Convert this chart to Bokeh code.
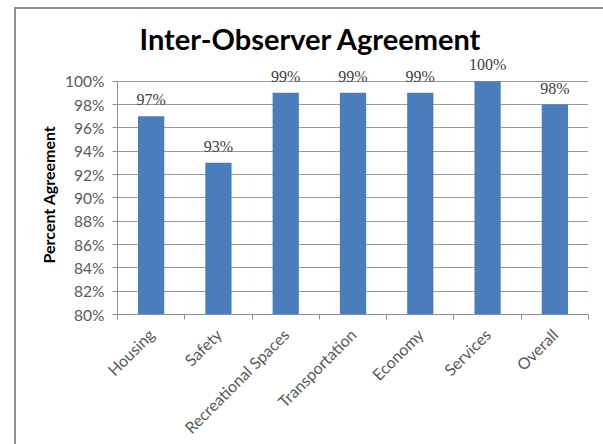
from bokeh.plotting import figure
from bokeh.models import (ColumnDataSource, FixedTicker, PrintfTickFormatter,
                          CustomJSTickFormatter, LabelSet, Range1d, Title)
from bokeh.embed import file_html
from bokeh.resources import INLINE

categories = ["Housing", "Safety", "Recreational Spaces", "Transportation",
              "Economy", "Services", "Overall"]
values = [97, 93, 99, 99, 99, 100, 98]
value_labels = ["97%", "93%", "99%", "99%", "99%", "100%", "98%"]
y_ticks = [80, 82, 84, 86, 88, 90, 92, 94, 96, 98, 100]

n = len(categories)
xs = [i + 0.5 for i in range(n)]
src = ColumnDataSource(dict(x=xs, top=values, lab=value_labels))

FONT = "Lato"

p = figure(width=589, height=437, output_backend="svg", toolbar_location=None,
           x_range=Range1d(0, n), y_range=Range1d(80, 102.2),
           min_border_left=101, min_border_right=17, min_border_top=46,
           min_border_bottom=132)
p.margin = (7, 0, 0, 14)
p.styles = {"border-left": "2px solid #8f8f8f", "border-top": "2px solid #8f8f8f",
            "box-sizing": "border-box"}
p.outline_line_color = None
p.background_fill_color = "white"
p.border_fill_color = "white"

title = Title(text="Inter-Observer Agreement", align="left", offset=22,
              text_font=FONT, text_font_size="29px", text_font_style="bold",
              text_color="black", standoff=0)
p.add_layout(title, "above")

p.vbar(x="x", top="top", bottom=80, width=0.39, source=src,
       fill_color="#4a7ebb", line_color=None)

labels = LabelSet(x="x", y="top", text="lab", source=src, text_align="center",
                  text_baseline="alphabetic", y_offset=11, text_font=FONT,
                  text_font_size="16px", text_color="#404040", level="overlay")
p.add_layout(labels)

# y axis
p.yaxis.ticker = FixedTicker(ticks=y_ticks)
p.yaxis.bounds = (80, 100)
p.yaxis.formatter = PrintfTickFormatter(format="%d%%")
p.yaxis.major_label_text_font = FONT
p.yaxis.major_label_text_font_size = "15.5px"
p.yaxis.major_label_text_color = "#595959"
p.yaxis.major_label_standoff = 8
p.yaxis.major_tick_in = 0
p.yaxis.major_tick_out = 5
p.yaxis.minor_tick_line_color = None
p.yaxis.axis_line_color = "#8c8c8c"
p.yaxis.major_tick_line_color = "#8c8c8c"

ylabel = Title(text="Percent Agreement", align="left", offset=51,
               text_font=FONT, text_font_size="16px", text_font_style="bold",
               text_color="black", standoff=10)
p.add_layout(ylabel, "left")

# x axis: labels at centres, ticks at category boundaries
p.xaxis.ticker = FixedTicker(ticks=xs, minor_ticks=list(range(n + 1)))
p.xaxis.formatter = CustomJSTickFormatter(args=dict(names=categories),
                                          code="return names[Math.floor(tick)]")
p.xaxis.major_label_orientation = 0.785398
p.xaxis.major_label_text_font = FONT
p.xaxis.major_label_text_font_size = "16px"
p.xaxis.major_label_text_color = "#595959"
p.xaxis.major_label_standoff = 11
p.xaxis.major_tick_line_color = None
p.xaxis.minor_tick_in = 0
p.xaxis.minor_tick_out = 5
p.xaxis.minor_tick_line_color = "#8c8c8c"
p.xaxis.axis_line_color = "#8c8c8c"

p.xgrid.grid_line_color = None
p.ygrid.ticker = FixedTicker(ticks=y_ticks)
p.ygrid.grid_line_color = "#9a9a9a"

open("out.html", "w").write(file_html(p, INLINE))
